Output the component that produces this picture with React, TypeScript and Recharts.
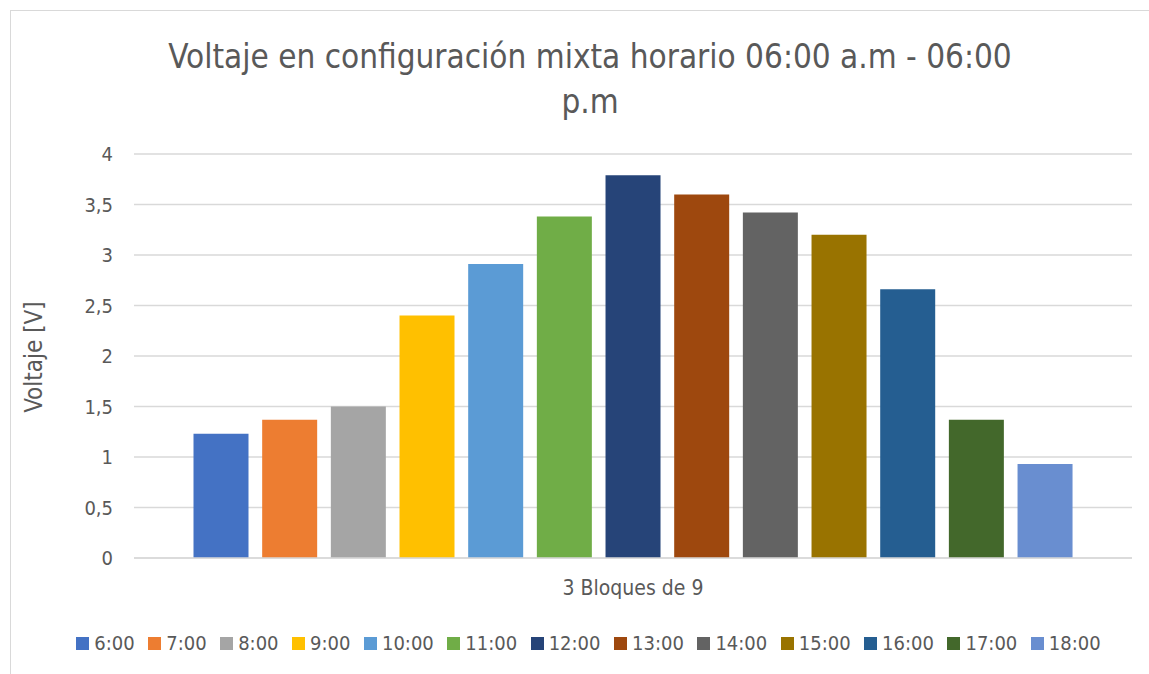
import React from 'react';
import { BarChart, Bar, XAxis, YAxis, CartesianGrid } from 'recharts';

const categories = ['3 Bloques de 9'];
const hours = ['6:00', '7:00', '8:00', '9:00', '10:00', '11:00', '12:00', '13:00', '14:00', '15:00', '16:00', '17:00', '18:00'];
const voltages = [1.23, 1.37, 1.5, 2.4, 2.91, 3.38, 3.79, 3.6, 3.42, 3.2, 2.66, 1.37, 0.93];
const colors = ['#4472C4', '#ED7D31', '#A5A5A5', '#FFC000', '#5B9BD5', '#70AD47', '#264478', '#9E480E', '#636363', '#997300', '#255E91', '#43682B', '#698ED0'];
const yTicks = [0, 0.5, 1, 1.5, 2, 2.5, 3, 3.5, 4];

const FONT = '"DejaVu Sans Condensed", "Noto Sans", sans-serif';
const TEXT = '#595959';

const data = categories.map((c) => {
  const row: Record<string, string | number> = { name: c };
  hours.forEach((h, i) => { row[h] = voltages[i]; });
  return row;
});

export default function App() {
  return (
    <div style={{ position: 'absolute', left: 0, top: 0, width: 1149, height: 674, overflow: 'hidden', background: '#fff', fontFamily: FONT }}>
      {/* chart frame */}
      <div style={{ position: 'absolute', left: 10, top: 10, width: 1200, height: 700, border: '1px solid #d9d9d9' }} />

      {/* title */}
      <div style={{ position: 'absolute', left: 0, width: 1180, top: 34, textAlign: 'center', color: TEXT, fontSize: 33, lineHeight: '45px' }}>
        <div>Voltaje en configuración mixta horario 06:00 a.m - 06:00</div>
        <div>p.m</div>
      </div>

      {/* y axis title */}
      <div style={{ position: 'absolute', left: 34, top: 357, transform: 'translate(-50%, -50%) rotate(-90deg)', color: TEXT, fontSize: 24, whiteSpace: 'nowrap' }}>
        Voltaje [V]
      </div>

      <div style={{ position: 'absolute', left: 0, top: 0 }}>
        <BarChart
          width={1149}
          height={674}
          data={data}
          margin={{ top: 154, right: 17, bottom: 86, left: 74 }}
          barCategoryGap={59.5}
          barGap={13.67}
        >
          <CartesianGrid vertical={false} stroke="#d9d9d9" strokeWidth={1.3} />
          <XAxis
            dataKey="name"
            height={30}
            axisLine={{ stroke: '#d9d9d9', strokeWidth: 1.3 }}
            tickLine={false}
            tick={{ fill: TEXT, fontSize: 21, fontFamily: FONT, dy: 14 }}
          />
          <YAxis
            width={60}
            domain={[0, 4]}
            ticks={yTicks}
            axisLine={false}
            tickLine={false}
            tickFormatter={(v: number) => String(v).replace('.', ',')}
            tick={{ fill: TEXT, fontSize: 20, fontFamily: FONT, dx: -13 }}
          />
          {hours.map((h, i) => (
            <Bar key={h} dataKey={h} fill={colors[i]} isAnimationActive={false} />
          ))}
        </BarChart>
      </div>

      {/* legend */}
      <div style={{ position: 'absolute', left: 0, width: 1177, top: 631, display: 'flex', justifyContent: 'center', color: TEXT, fontSize: 20, lineHeight: '24px' }}>
        {hours.map((h, i) => (
          <div key={h} style={{ display: 'flex', alignItems: 'center', marginRight: i < hours.length - 1 ? 13.5 : 0 }}>
            <span style={{ display: 'inline-block', width: 13, height: 13, background: colors[i], marginRight: 5 }} />
            <span>{h}</span>
          </div>
        ))}
      </div>
    </div>
  );
}
